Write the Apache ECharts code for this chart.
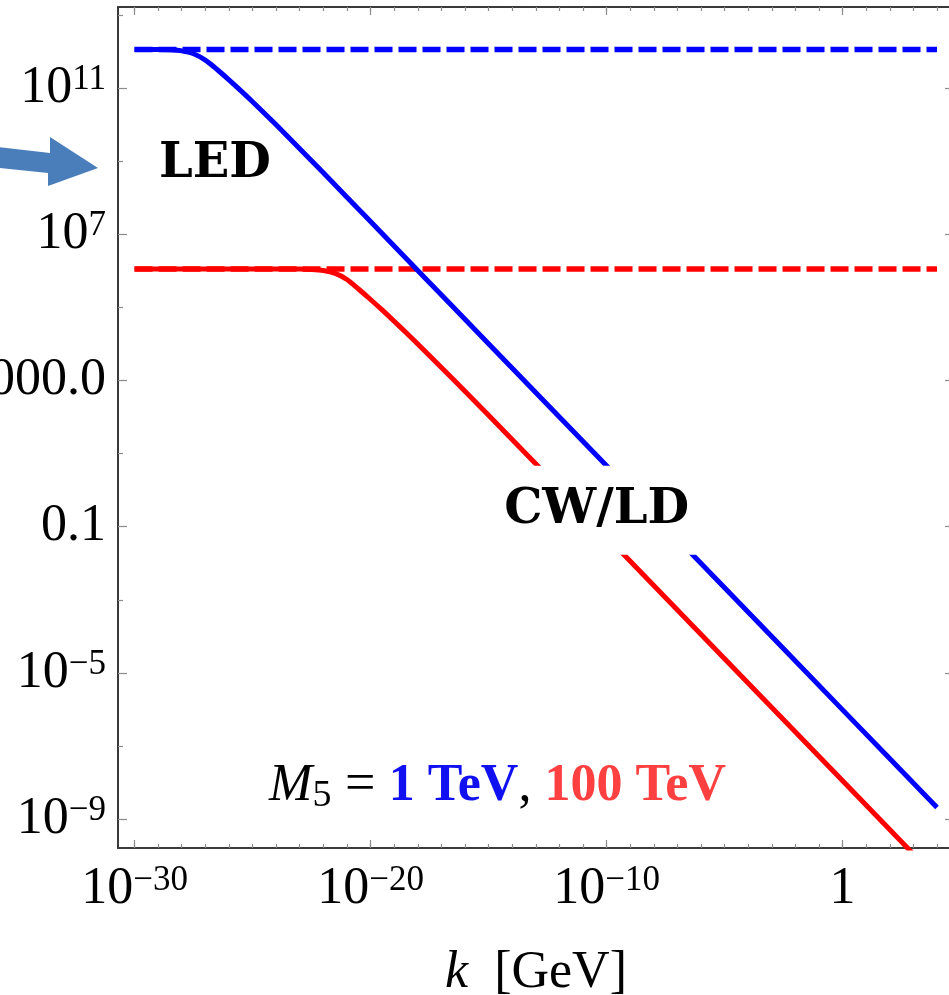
<!DOCTYPE html>
<html>
<head>
<meta charset="utf-8">
<script src="https://cdn.jsdelivr.net/npm/echarts@6/dist/echarts.min.js"></script>
<style>
  html, body { margin: 0; padding: 0; background: #ffffff; }
  #chart { width: 949px; height: 995px; }
</style>
</head>
<body>
<div id="chart"></div>
<script>
// Curves are given as log10 values: x = log10(k / GeV), y = log10 of the plotted quantity.
const kLog1TeV   = [-30, -29, -28.5, -28, -27.5, -27, -26.5, -26, -25.5, -25, -24.5, -24, -23, -22, -20, -18, -15, -10, -5, 0, 4];
const valLog1TeV = [12.06, 12.06, 12.05, 12.02, 11.94, 11.765, 11.51, 11.227, 10.933, 10.629, 10.315, 9.996, 9.343, 8.683, 7.349, 6.013, 4.009, 0.669, -2.671, -6.011, -8.683];

const kLog100TeV   = [-30, -26, -23, -22.5, -22, -21.5, -21, -20.5, -20, -19.5, -19, -18.5, -18, -17, -16, -15, -10, -5, 0, 4];
const valLog100TeV = [6.05, 6.05, 6.05, 6.04, 6.01, 5.93, 5.765, 5.498, 5.217, 4.924, 4.623, 4.314, 4.0, 3.359, 2.708, 2.051, -1.273, -4.613, -7.953, -10.625];

// Constant (small-k) levels, drawn dashed across the full k range
const plateauK       = [-30, 4];
const plateau1TeV    = [12.06, 12.06];
const plateau100TeV  = [6.05, 6.05];

// Tick positions (decades) and their labels as [base, exponent]
const xMajorTicks = [-30, -20, -10, 0];
const xTickLabels = [['10', '\u221230'], ['10', '\u221220'], ['10', '\u221210'], ['1', '']];
const xMinorTicks = [-30, -29, -28, -27, -26, -25, -24, -23, -22, -21, -20, -19, -18, -17, -16, -15, -14, -13, -12, -11,
                     -10, -9, -8, -7, -6, -5, -4, -3, -2, -1, 0, 1, 2, 3, 4];
const yMajorTicks = [11, 7, 3, -1, -5, -9];
const yTickLabels = [['10', '11'], ['10', '7'], ['1000.0', ''], ['0.1', ''], ['10', '\u22125'], ['10', '\u22129']];
const yMinorTicks = [13, 9, 5, 1, -3, -7];

// Axis ranges in decades
const X_MIN = -30.7, X_MAX = 4.72;
const Y_MIN = -9.79, Y_MAX = 13.22;

const SERIF = '"Liberation Serif", "Times New Roman", serif';
const FRAME = '#3a3a3a';
const TICK = '#8a8a8a';
const BLUE = '#0000ff';
const RED = '#ff0000';

const tickRich = {
  b: { fontFamily: SERIF, fontSize: 52, lineHeight: 52, color: '#000' },
  s: { fontFamily: SERIF, fontSize: 35, lineHeight: 32, verticalAlign: 'top', color: '#000' }
};

function labelFor(ticks, labels) {
  return function (v) {
    for (let i = 0; i < ticks.length; i++) {
      if (Math.abs(ticks[i] - v) < 1e-6) {
        const [b, e] = labels[i];
        return e ? '{b|' + b + '}{s|' + e + '}' : '{b|' + b + '}';
      }
    }
    return '';
  };
}

function makeAxis(kind, position, ticks, len, opts) {
  const isX = kind === 'x';
  const ax = {
    type: 'value',
    position: position,
    min: isX ? X_MIN : Y_MIN,
    max: isX ? X_MAX : Y_MAX,
    axisLine: { show: !!opts.line, onZero: false, lineStyle: { color: FRAME, width: 2 } },
    axisTick: { show: true, inside: true, length: len, customValues: ticks, lineStyle: { color: TICK, width: 1.2 } },
    axisLabel: { show: false },
    splitLine: { show: false },
    silent: true
  };
  if (opts.labels) {
    ax.axisLabel = {
      show: true,
      customValues: ticks,
      margin: isX ? 15 : 12,
      formatter: labelFor(ticks, opts.labels),
      fontFamily: SERIF,
      fontSize: 52,
      color: '#000',
      rich: tickRich
    };
  }
  return ax;
}

const xAxes = [
  makeAxis('x', 'bottom', xMajorTicks, 8, { line: true, labels: xTickLabels }),
  makeAxis('x', 'bottom', xMinorTicks, 4, {}),
  makeAxis('x', 'top', xMajorTicks, 8, { line: true }),
  makeAxis('x', 'top', xMinorTicks, 4, {})
];
Object.assign(xAxes[0], {
  name: '{i|k}{n|  [GeV]}',
  nameLocation: 'middle',
  nameGap: 97,
  nameTextStyle: {
    rich: {
      i: { fontFamily: SERIF, fontStyle: 'italic', fontSize: 52, color: '#000', lineHeight: 56 },
      n: { fontFamily: SERIF, fontSize: 52, color: '#000', lineHeight: 56 }
    }
  }
});

const yAxes = [
  makeAxis('y', 'left', yMajorTicks, 9, { line: true, labels: yTickLabels }),
  makeAxis('y', 'left', yMinorTicks, 5, {}),
  makeAxis('y', 'right', yMajorTicks, 9, { line: true }),
  makeAxis('y', 'right', yMinorTicks, 5, {})
];

function pairs(xs, ys) { return xs.map((x, i) => [x, ys[i]]); }

function lineSeries(xs, ys, color, dashed) {
  return {
    type: 'line',
    xAxisIndex: 0,
    yAxisIndex: 0,
    data: pairs(xs, ys),
    symbol: 'none',
    smooth: dashed ? false : 0.25,
    clip: true,
    silent: true,
    z: dashed ? 2 : 3,
    lineStyle: dashed
      ? { color: color, width: 5.5, type: [18, 6], cap: 'butt' }
      : { color: color, width: 5, cap: 'butt', join: 'round' }
  };
}

const chart = echarts.init(document.getElementById('chart'), null, { renderer: 'canvas' });

chart.setOption({
  animation: false,
  backgroundColor: '#ffffff',
  grid: { left: 118, top: 7, width: 836, height: 841, containLabel: false, outerBoundsMode: 'none' },
  xAxis: xAxes,
  yAxis: yAxes,
  series: [
    lineSeries(plateauK, plateau1TeV, BLUE, true),
    lineSeries(plateauK, plateau100TeV, RED, true),
    lineSeries(kLog1TeV, valLog1TeV, BLUE, false),
    lineSeries(kLog100TeV, valLog100TeV, RED, false)
  ]
});

// Annotation anchors in data coordinates (decades)
const ledAt = [-26.59, 8.92];
const cwAt = [-10.42, -0.546];
const m5At = [-14.62, -8.10];

const px = p => chart.convertToPixel({ gridIndex: 0 }, p);
const ledPx = px(ledAt), cwPx = px(cwAt), m5Px = px(m5At);

chart.setOption({
  graphic: [
    {
      type: 'polygon',
      z: 100,
      silent: true,
      shape: { points: [[-10, 146], [50, 153], [50, 137], [98, 168], [48, 186], [48, 173], [-10, 167]] },
      style: { fill: '#4a7ebb' }
    },
    {
      type: 'text',
      z: 100,
      silent: true,
      x: ledPx[0], y: ledPx[1],
      style: {
        text: 'LED',
        fontFamily: '"DejaVu Serif", serif', fontWeight: 'bold', fontSize: 48,
        fill: '#000', align: 'center', verticalAlign: 'middle'
      }
    },
    {
      type: 'text',
      z: 100,
      silent: true,
      x: cwPx[0], y: cwPx[1],
      style: {
        text: 'CW/LD',
        fontFamily: '"DejaVu Serif", serif', fontWeight: 'bold', fontSize: 48,
        lineHeight: 48,
        fill: '#000', align: 'center', verticalAlign: 'middle',
        backgroundColor: '#ffffff', padding: [30, 10, 11, 10]
      }
    },
    {
      type: 'text',
      z: 100,
      silent: true,
      x: m5Px[0], y: m5Px[1],
      style: {
        text: '{m|M}{s|5}{n| = }{b|1 TeV}{c|,}{r| 100 TeV}',
        align: 'center', verticalAlign: 'middle',
        rich: {
          m: { fontFamily: SERIF, fontStyle: 'italic', fontSize: 52, lineHeight: 58, fill: '#000' },
          s: { fontFamily: SERIF, fontSize: 38, lineHeight: 24, verticalAlign: 'bottom', fill: '#000' },
          n: { fontFamily: SERIF, fontSize: 54, lineHeight: 58, fill: '#000' },
          b: { fontFamily: SERIF, fontWeight: 'bold', fontSize: 52, lineHeight: 58, fill: '#1010f0' },
          c: { fontFamily: SERIF, fontSize: 52, lineHeight: 58, fill: '#000' },
          r: { fontFamily: SERIF, fontWeight: 'bold', fontSize: 52, lineHeight: 58, fill: '#ff4040' }
        }
      }
    }
  ]
});
</script>
</body>
</html>
